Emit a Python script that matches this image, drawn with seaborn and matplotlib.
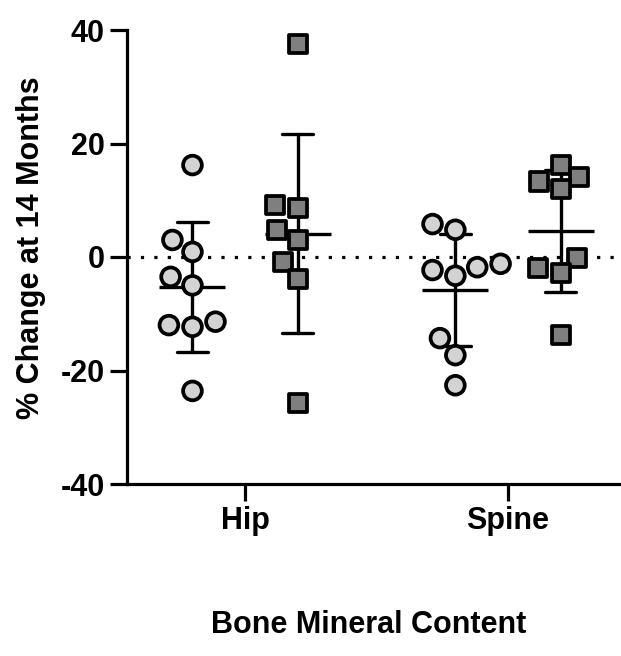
import pandas as pd
import matplotlib.pyplot as plt
import seaborn as sns

# % change at 14 months
sites = ["Hip", "Spine"]
groups = ["Group A", "Group B"]

hip_a = [16.2, 3.0, 0.9, -3.5, -5.0, -11.4, -12.0, -12.3, -23.6]
hip_b = [37.6, 9.2, 8.6, 4.8, 3.0, -0.8, -3.8, -25.8]
spine_a = [5.8, 4.8, -1.2, -1.8, -2.3, -3.3, -14.3, -17.3, -22.6]
spine_b = [16.2, 14.1, 13.3, 11.9, -0.2, -2.0, -2.9, -13.7]

y_ticks = [-40, -20, 0, 20, 40]

rows = []
for site, grp, vals in [("Hip", groups[0], hip_a), ("Hip", groups[1], hip_b),
                        ("Spine", groups[0], spine_a), ("Spine", groups[1], spine_b)]:
    for v in vals:
        rows.append({"site": site, "group": grp, "value": v})
df = pd.DataFrame(rows)

sns.set_style("ticks")
plt.rcParams['font.family'] = ['Liberation Sans', 'DejaVu Sans']
plt.rcParams['font.weight'] = 'bold'
plt.rcParams['axes.labelweight'] = 'bold'
plt.rcParams['axes.unicode_minus'] = False
plt.rcParams['text.color'] = 'black'
plt.rcParams['axes.labelcolor'] = 'black'

fig = plt.figure(figsize=(6.21, 6.56), dpi=100)
ax = fig.add_axes([127 / 621, 1 - 484 / 656, 494 / 621, 454 / 656])

# dotted zero line
ax.axhline(0, color='black', linewidth=2.3, dashes=(1, 3.2), zorder=1)

# mean +/- SD
sns.pointplot(data=df, x='site', y='value', hue='group', order=sites, hue_order=groups,
              dodge=0.4, errorbar='sd', markers='_', markersize=47, markeredgewidth=2.4,
              linestyle='none', palette=['black', 'black'], capsize=0.12,
              err_kws={'linewidth': 2.4}, legend=False, ax=ax)

pal = {groups[0]: '#d3d3d3', groups[1]: '#7f7f7f'}
sns.swarmplot(data=df[df.group == groups[0]], x='site', y='value', hue='group',
              order=sites, hue_order=groups, dodge=True, marker='o', size=13.5,
              palette=pal, edgecolor='black', linewidth=2.7, legend=False, ax=ax, zorder=3)
sns.swarmplot(data=df[df.group == groups[1]], x='site', y='value', hue='group',
              order=sites, hue_order=groups, dodge=True, marker='s', size=13,
              palette=pal, edgecolor='black', linewidth=2.7, legend=False, ax=ax, zorder=3)

ax.set_ylim(-40, 40)
ax.set_yticks(y_ticks)
ax.set_xlim(-0.449, 1.43)
sns.despine(ax=ax)
for s in ['left', 'bottom']:
    ax.spines[s].set_linewidth(2.3)
    ax.spines[s].set_color('black')
ax.tick_params(axis='both', length=12, width=2.3, labelsize=22, colors='black', pad=4)

ax.set_ylabel('% Change at 14 Months', fontsize=22, fontweight='bold')
ax.set_xlabel('Bone Mineral Content', fontsize=22, fontweight='bold')
ax.yaxis.set_label_coords(-0.195, 0.52)
ax.xaxis.set_label_coords(0.49, -0.31)
ax.xaxis.label.set_va('center')
ax.yaxis.label.set_va('center')

fig.savefig('out.png', dpi=100)
